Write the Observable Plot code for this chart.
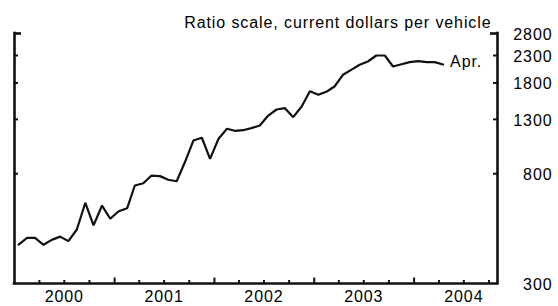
<!DOCTYPE html>
<html><head><meta charset="utf-8">
<script src="https://cdn.jsdelivr.net/npm/d3@7"></script>
<script src="https://cdn.jsdelivr.net/npm/@observablehq/plot@0.6"></script>
<style>
html,body{margin:0;padding:0;background:#fff;}
svg{font-family:"Liberation Sans",Arial,sans-serif;}
svg text{letter-spacing:0.9px;}
</style></head><body><div id="chart"></div>
<script>
const months = [
  "2000-01","2000-02","2000-03","2000-04","2000-05","2000-06","2000-07","2000-08","2000-09","2000-10","2000-11","2000-12",
  "2001-01","2001-02","2001-03","2001-04","2001-05","2001-06","2001-07","2001-08","2001-09","2001-10","2001-11","2001-12",
  "2002-01","2002-02","2002-03","2002-04","2002-05","2002-06","2002-07","2002-08","2002-09","2002-10","2002-11","2002-12",
  "2003-01","2003-02","2003-03","2003-04","2003-05","2003-06","2003-07","2003-08","2003-09","2003-10","2003-11","2003-12",
  "2004-01","2004-02","2004-03","2004-04"
];
const values = [
  425, 451, 451, 424, 443, 456, 438, 486, 617, 504, 602, 535,
  572, 588, 720, 735, 787, 783, 758, 748, 892, 1076, 1103, 914,
  1093, 1195, 1174, 1180, 1202, 1231, 1342, 1420, 1437, 1326, 1459, 1672,
  1619, 1668, 1744, 1936, 2024, 2117, 2180, 2300, 2300, 2085, 2128, 2167,
  2186, 2167, 2167, 2123
];
const yTicks = [300, 800, 1300, 1800, 2300, 2800];
const yearLabels = ["2000", "2001", "2002", "2003", "2004"];
const endLabel = "Apr.";
const title = "Ratio scale, current dollars per vehicle";

const W = 558, H = 306, ML = 14, MR = 61, MT = 33, MB = 23;
const FW = W - ML - MR, FH = H - MT - MB;

const data = months.map((m, i) => ({date: new Date(m + "-16T00:00:00Z"), value: values[i]}));
const x0 = new Date("2000-01-01T00:00:00Z");
const x1 = new Date("2004-11-01T00:00:00Z");
const quarterTicks = d3.utcMonth.every(3).range(new Date("2000-04-01T00:00:00Z"), x1).filter(d => d.getUTCMonth() !== 0);
const yearTicks = d3.utcYear.range(new Date("2001-01-01T00:00:00Z"), x1);
const innerY = yTicks.slice(1, -1);
const topY = yTicks.slice(-1);

const chart = Plot.plot({
  width: W, height: H,
  marginLeft: ML, marginRight: MR, marginTop: MT, marginBottom: MB,
  style: {fontFamily: '"Liberation Sans", Arial, sans-serif', fontSize: "16px", color: "#000", background: "#fff", overflow: "visible"},
  x: {type: "utc", domain: [x0, x1], label: null, axis: null},
  y: {type: "log", domain: [300, 2800], label: null, axis: null},
  marks: [
    // inward ticks, bottom axis
    Plot.tickX(quarterTicks, {x: d => d, insetTop: FH - 3, stroke: "#111", strokeWidth: 2}),
    Plot.tickX(yearTicks, {x: d => d, insetTop: FH - 5.5, stroke: "#111", strokeWidth: 2}),
    // inward ticks, left and right axes
    Plot.tickY(innerY, {y: d => d, insetRight: FW - 4, stroke: "#111", strokeWidth: 2}),
    Plot.tickY(topY, {y: d => d, insetRight: FW - 7, stroke: "#111", strokeWidth: 2.6}),
    Plot.tickY(innerY, {y: d => d, insetLeft: FW - 4, stroke: "#111", strokeWidth: 2}),
    Plot.tickY(topY, {y: d => d, insetLeft: FW - 7, stroke: "#111", strokeWidth: 2.6}),
    // right labels
    Plot.text(yTicks, {y: d => d, text: d => String(d), frameAnchor: "right", textAnchor: "end", dx: 55, dy: 1, fill: "#000"}),
    // frame
    Plot.ruleX([x0, x1], {stroke: "#111", strokeWidth: 2.6, strokeLinecap: "square"}),
    Plot.ruleY([300], {stroke: "#111", strokeWidth: 2.6, strokeLinecap: "square"}),
    // year labels
    Plot.text(yearLabels, {x: d => new Date(d + "-07-01T00:00:00Z"), text: d => d, frameAnchor: "bottom", lineAnchor: "top", dy: 7, fill: "#000"}),
    // title
    Plot.text([title], {frameAnchor: "top-right", textAnchor: "end", dy: -17, dx: -6, fill: "#000"}),
    // line
    Plot.line(data, {x: "date", y: "value", stroke: "#111", strokeWidth: 2.2, strokeLinejoin: "miter"}),
    Plot.text(data, Plot.selectLast({x: "date", y: "value", text: () => endLabel, textAnchor: "start", dx: 7, dy: -3, fill: "#000"}))
  ]
});
document.getElementById("chart").appendChild(chart);
</script>
</body></html>
